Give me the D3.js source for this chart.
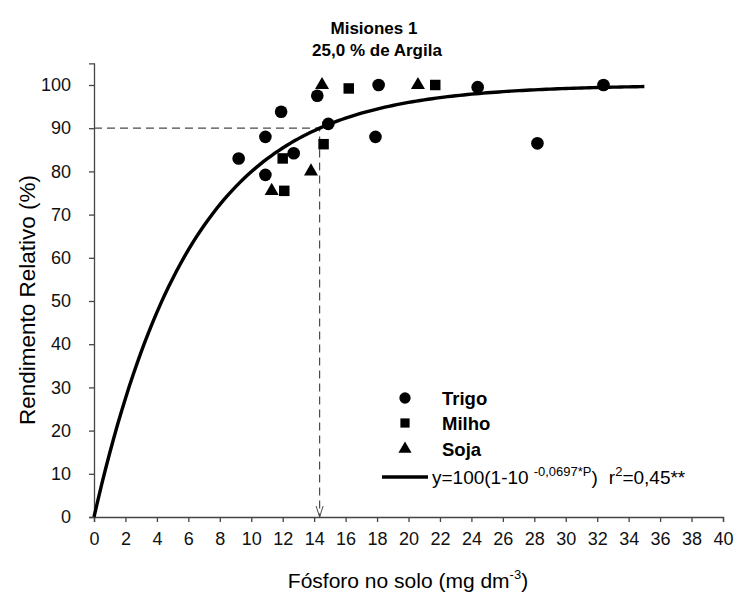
<!DOCTYPE html>
<html>
<head>
<meta charset="utf-8">
<script src="https://cdn.jsdelivr.net/npm/d3@7"></script>
<style>
  body { margin: 0; background: #fff; }
  text { font-family: Arial, "Liberation Sans", sans-serif; }
</style>
</head>
<body>
<script>
// data
var trigoP = [9.2, 10.9, 10.9, 11.9, 12.7, 14.2, 14.9, 17.9, 18.1, 24.4, 28.2, 32.4];
var trigoRR = [83, 88, 79.2, 93.8, 84.2, 97.5, 91, 88, 100, 99.5, 86.5, 100];
var milhoP = [12.0, 12.1, 14.6, 16.2, 21.7];
var milhoRR = [83, 75.5, 86.3, 99.2, 100];
var sojaP = [11.3, 13.8, 14.5, 20.6];
var sojaRR = [75.5, 80, 100, 100];
var xTicks = d3.range(0, 41, 2);
var yTicks = d3.range(0, 101, 10);
var coefB = 0.0697, fitMax = 35, critRR = 90;

var width = 734,
    height = 594;

var svg = d3.select("body").append("svg")
    .attr("width", width)
    .attr("height", height);

var x = d3.scaleLinear().domain([0, 40]).range([94, 723]);
var y = d3.scaleLinear().domain([0, 105]).range([517, 63.4]);

function fit(p) { return 100 * (1 - Math.pow(10, -coefB * p)); }
var critP = -Math.log10(1 - critRR / 100) / coefB;

// axes
var xAxis = svg.append("g")
    .attr("transform", "translate(0," + y(0) + ")")
    .call(d3.axisBottom(x).tickValues(xTicks).tickSizeOuter(0).tickSize(5).tickPadding(10));
var yAxis = svg.append("g")
    .attr("transform", "translate(" + x(0) + ",0)")
    .call(d3.axisLeft(y).tickValues(yTicks).tickSizeOuter(0).tickSize(5).tickPadding(18));

[xAxis, yAxis].forEach(function(a) {
  a.selectAll("path, line").attr("stroke", "#444").attr("stroke-width", 1.3);
  a.selectAll("text").attr("fill", "#111").style("font-size", "18px");
});

// dashed guides at 90 %
svg.append("path")
    .attr("d", "M" + x(0) + "," + y(critRR) + "H" + x(critP) + "V" + y(0))
    .attr("fill", "none")
    .attr("stroke", "#4a4a4a")
    .attr("stroke-width", 1.2)
    .attr("stroke-dasharray", "8,5");

svg.append("path")
    .attr("d", "M" + (x(critP) - 3.5) + "," + (y(0) - 11) + "L" + x(critP) + "," + y(0) + "L" + (x(critP) + 3.5) + "," + (y(0) - 11))
    .attr("fill", "none")
    .attr("stroke", "#4a4a4a")
    .attr("stroke-width", 1);

// fitted curve
var curveP = d3.range(0, fitMax + 0.01, 0.25);
svg.append("path")
    .datum(curveP)
    .attr("fill", "none")
    .attr("stroke", "#000")
    .attr("stroke-width", 3.4)
    .attr("d", d3.line().x(function(p) { return x(p); }).y(function(p) { return y(fit(p)); }));

// points
var circ = d3.symbol().type(d3.symbolCircle).size(125);
var sq = d3.symbol().type(d3.symbolSquare).size(110);
var tri = d3.symbol().type(d3.symbolTriangle).size(85);

function drawPts(px, py, sym) {
  svg.append("g").selectAll("path")
    .data(px)
    .enter().append("path")
    .attr("d", sym)
    .attr("fill", "#000")
    .attr("transform", function(d, i) { return "translate(" + x(d) + "," + y(py[i]) + ")"; });
}
drawPts(trigoP, trigoRR, circ);
drawPts(milhoP, milhoRR, sq);
drawPts(sojaP, sojaRR, tri);

// titles
svg.append("text")
    .attr("x", 374).attr("y", 34)
    .attr("text-anchor", "middle")
    .style("font-size", "17px").style("font-weight", "bold")
    .text("Misiones 1");
svg.append("text")
    .attr("x", 377).attr("y", 56)
    .attr("text-anchor", "middle")
    .style("font-size", "17px").style("font-weight", "bold")
    .text("25,0 % de Argila");

var xt = svg.append("text")
    .attr("x", 408).attr("y", 588)
    .attr("text-anchor", "middle")
    .style("font-size", "21px");
xt.append("tspan").text("Fósforo no solo (mg dm");
xt.append("tspan").attr("dy", -9).style("font-size", "13px").text("-3");
xt.append("tspan").attr("dy", 9).text(")");

svg.append("text")
    .attr("transform", "translate(35," + 300 + ") rotate(-90)")
    .attr("text-anchor", "middle")
    .style("font-size", "22.5px")
    .text("Rendimento Relativo (%)");

// legend
var legNames = ["Trigo", "Milho", "Soja"];
var legSyms = [d3.symbol().type(d3.symbolCircle).size(100),
               d3.symbol().type(d3.symbolSquare).size(85),
               d3.symbol().type(d3.symbolTriangle).size(75)];
var legY = [398, 423, 449];
legNames.forEach(function(n, i) {
  svg.append("path")
    .attr("d", legSyms[i])
    .attr("transform", "translate(405," + legY[i] + ")");
  svg.append("text")
    .attr("x", 442).attr("y", legY[i] + 6.5)
    .style("font-size", "18.5px").style("font-weight", "bold")
    .text(n);
});
svg.append("line")
    .attr("x1", 382).attr("x2", 428)
    .attr("y1", 477).attr("y2", 477)
    .attr("stroke", "#000").attr("stroke-width", 3.4);
var eq = svg.append("text")
    .attr("x", 432).attr("y", 484)
    .style("font-size", "19px");
eq.append("tspan").text("y=100(1-10");
eq.append("tspan").attr("dx", 5).attr("dy", -8).style("font-size", "13px").text("-0,0697*P");
eq.append("tspan").attr("dy", 8).text(")");
eq.append("tspan").attr("dx", 11).text("r");
eq.append("tspan").attr("dy", -8).style("font-size", "13px").text("2");
eq.append("tspan").attr("dy", 8).text("=0,45**");
</script>
</body>
</html>
